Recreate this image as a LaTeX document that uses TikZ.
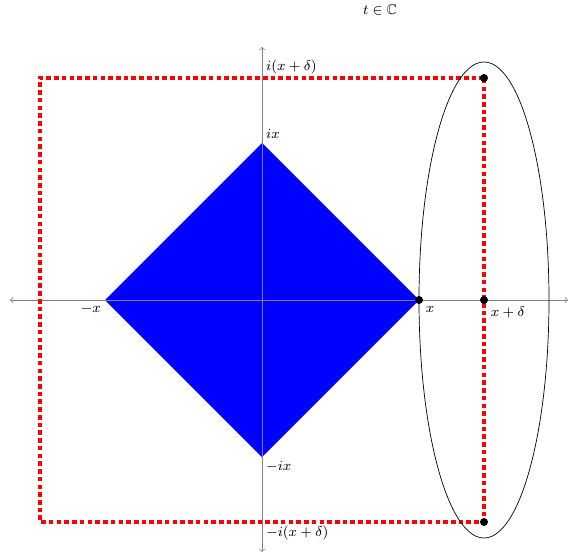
\documentclass[tikz,border=0pt]{standalone}
\usepackage{amssymb}
\begin{document}
\begin{tikzpicture}[
    dot/.style={circle, fill=black, inner sep=0pt, minimum size=0.16cm},
    pt/.style={inner sep=0pt, minimum size=0pt},
    axis/.style={gray, <->},
    box/.style={red, line width=2.2pt, dash pattern=on 2.6pt off 1.8pt},
    every label/.style={font=\footnotesize, inner sep=2pt},
    thin
]
    \useasboundingbox (-5.24,-5.14) rectangle (6.16,6.0);
    % Diamond vertices
    \node[pt, label=above right:{$ix$}] (top) at (0, 3.14) {};
    \node[pt, label=below right:{$-ix$}] (bot) at (0, -3.14) {};
    \node[pt, label=below left:{$-x$}] (left) at (-3.14, 0) {};
    \coordinate (right) at (3.14, 0);
    \fill[blue] (right) -- (top.center) -- (left.center) -- (bot.center) -- cycle;
    % Axes
    \coordinate (xmin) at (-5.04, 0);
    \coordinate (xmax) at (6.12, 0);
    \coordinate (ymin) at (0, -5.04);
    \coordinate (ymax) at (0, 5.06);
    \draw[axis] (xmin) -- (xmax);
    \draw[axis] (ymin) -- (ymax);
    % Square of side 2(x+delta)
    \node[pt, label=above right:{$i(x+\delta)$}] (itop) at (0, 4.44) {};
    \node[pt, label=below right:{$-i(x+\delta)$}] (ibot) at (0, -4.44) {};
    \coordinate (ctop) at (4.44, 4.44);
    \coordinate (cbot) at (4.44, -4.44);
    \coordinate (xd) at (4.44, 0);
    \draw[box] (ctop) -- (-4.44, 4.44) -- (-4.44, -4.44) -- (cbot) -- cycle;
    % Ellipse
    \draw (xd) ellipse [x radius=1.3, y radius=4.76];
    % Points
    \node[dot, label=below right:{$x$}] at (right) {};
    \node[dot, label=below right:{$x+\delta$}] at (xd) {};
    \node[dot] at (ctop) {};
    \node[dot] at (cbot) {};
    % Title
    \node[font=\footnotesize] (title) at (2.36, 5.8) {$t \in \mathbb{C}$};
\end{tikzpicture}
\end{document}
